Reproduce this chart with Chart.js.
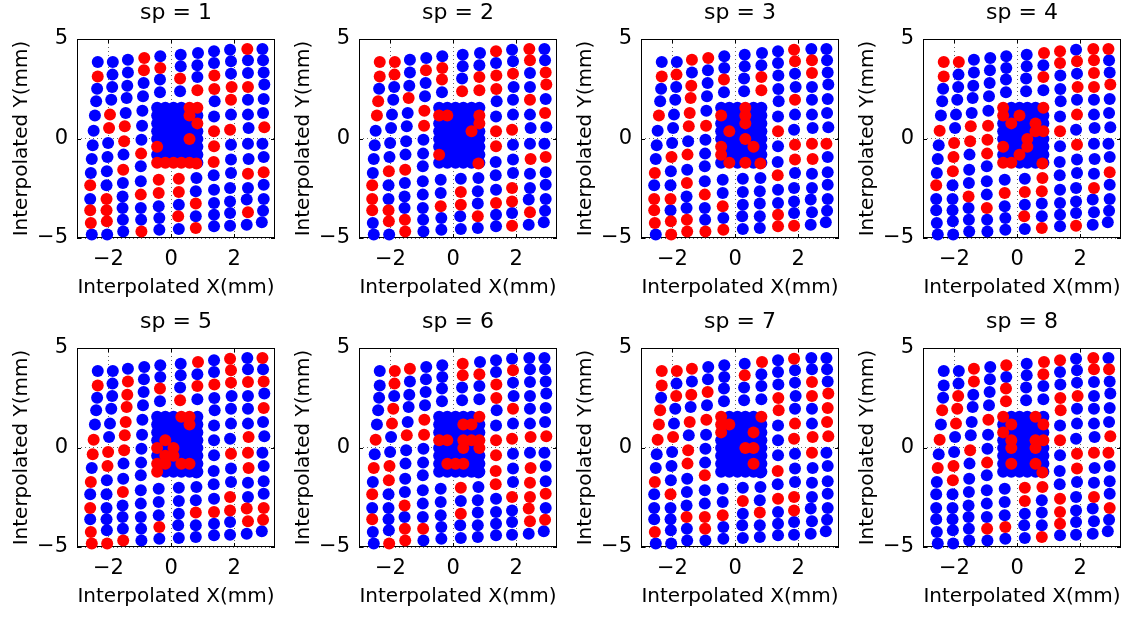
<!DOCTYPE html>
<html>
<head>
<meta charset="utf-8">
<title>Interpolated positions, sp = 1..8</title>
<script src="https://cdn.jsdelivr.net/npm/chart.js@4.4.1/dist/chart.umd.min.js"></script>
<style>
  html, body { margin: 0; padding: 0; background: #fff; }
  #panels { position: relative; width: 1133px; height: 617px; overflow: hidden; }
  .panel { position: absolute; width: 282px; height: 308px; }
</style>
</head>
<body>
<div id="panels"></div>
<script>
/* ---------- Data ---------- */
const panelTitles = ["sp = 1", "sp = 2", "sp = 3", "sp = 4", "sp = 5", "sp = 6", "sp = 7", "sp = 8"];
const xTickValues = [-2, 0, 2];
const yTickValues = [-5, 0, 5];
const xRange = [-3, 3.3];
const yRange = [-5, 5];

// outer grid of electrodes, one column per row of these arrays (top -> bottom)
const gridColX = [
  [-2.34, -2.34, -2.36, -2.39, -2.43, -2.47, -2.50, -2.53, -2.56, -2.58, -2.58, -2.58, -2.56, -2.53],
  [-1.86, -1.87, -1.88, -1.91, -1.95, -1.98, -2.01, -2.03, -2.05, -2.06, -2.06, -2.06, -2.05, -2.04],
  [-1.38, -1.38, -1.40, -1.42, -1.45, -1.48, -1.50, -1.52, -1.53, -1.54, -1.55, -1.55, -1.54, -1.53],
  [-0.86, -0.87, -0.88, -0.90, -0.92, -0.93, -0.95, -0.96, -0.97, -0.97, -0.97, -0.97, -0.96, -0.95],
  [-0.35, -0.35, -0.36, -0.36, -0.40, -0.40, -0.40, -0.38, -0.38],
  [0.30, 0.30, 0.28, 0.28, 0.24, 0.24, 0.24, 0.22, 0.24],
  [0.85, 0.83, 0.83, 0.83, 0.80, 0.80, 0.78, 0.78, 0.78, 0.78],
  [1.36, 1.36, 1.37, 1.37, 1.38, 1.36, 1.36, 1.36, 1.35, 1.35, 1.36, 1.36, 1.36, 1.36],
  [1.87, 1.90, 1.90, 1.92, 1.90, 1.90, 1.87, 1.90, 1.90, 1.90, 1.87, 1.87, 1.87, 1.87],
  [2.42, 2.44, 2.44, 2.44, 2.44, 2.44, 2.46, 2.44, 2.46, 2.44, 2.44, 2.40, 2.44, 2.40],
  [2.90, 2.92, 2.94, 2.96, 2.94, 2.92, 2.96, 2.90, 2.94, 2.94, 2.94, 2.94, 2.92, 2.88]
];
const gridColY = [
  [3.84, 3.12, 2.50, 1.87, 1.15, 0.39, -0.34, -1.03, -1.73, -2.35, -3.04, -3.61, -4.25, -4.83],
  [3.84, 3.21, 2.59, 1.95, 1.20, 0.53, -0.23, -0.93, -1.65, -2.35, -3.04, -3.61, -4.16, -4.83],
  [3.96, 3.32, 2.65, 2.04, 1.28, 0.61, -0.14, -0.81, -1.57, -2.24, -2.91, -3.49, -4.08, -4.67],
  [4.05, 3.43, 2.79, 2.12, 1.40, 0.64, -0.06, -0.76, -1.40, -2.15, -2.82, -3.49, -4.08, -4.67],
  [4.13, 3.54, 2.96, 2.32, -2.07, -2.74, -3.41, -4.00, -4.58],
  [4.21, 3.63, 3.01, 2.37, -2.02, -2.69, -3.33, -3.91, -4.55],
  [4.30, 3.68, 3.09, 2.42, -1.26, -1.98, -2.65, -3.27, -3.91, -4.50],
  [4.38, 3.79, 3.16, 2.49, 1.87, 1.11, 0.36, -0.39, -1.18, -1.85, -2.57, -3.24, -3.83, -4.41],
  [4.46, 3.88, 3.26, 2.59, 1.95, 1.20, 0.44, -0.31, -1.06, -1.73, -2.49, -3.16, -3.74, -4.38],
  [4.50, 3.93, 3.29, 2.59, 1.95, 1.20, 0.53, -0.26, -1.03, -1.77, -2.49, -3.07, -3.71, -4.33],
  [4.50, 3.93, 3.32, 2.71, 1.98, 1.28, 0.56, -0.26, -0.93, -1.70, -2.32, -3.04, -3.63, -4.21]
];

// dense central block
const blockX = [-0.45, -0.19, 0.07, 0.32, 0.58, 0.83];
const blockY = [1.55, 1.15, 0.76, 0.37, -0.03, -0.42, -0.82, -1.22];

// colour of every point, "r" red / "b" blue; grid strings follow gridColY, block strings are rows of blockX
const sp1Grid = ["brbbbbbbbrbrrb", "bbbbrrbbbbrrrb", "bbbbbrrbrbbbbb", "rrbbbbbrbbrbbr", "brbbrrbbb", "bbrbrrbrb",
  "bbbrrbbrbr", "bbrrbbrrrbbbbb", "bbbrrbrbbbbbbb", "rbbrbbbbbrbbrb", "bbbbbbrbbrbbbb"];
const sp1Block = ["bbbbrr", "bbbbrb", "bbbbbr", "bbbbbb", "bbbbrb", "rbbbbb", "bbbbbb", "rrrrrb"];

const sp2Grid = ["rrbrrbbbbrrrbb", "rrbbbbbbrbbrrb", "bbbrbbbbrbbbrr", "brbbrrbbbbbbbb", "brrbbbrbb", "bbbrbrrbb",
  "bbrrrbbbrb", "rbrrbbrrbbbrbb", "bbrbbbrbbbrrbr", "rrbbrbbbrbbbrb", "bbrrbrbbrbbbbb"];
const sp2Block = ["bbbbbb", "rrbbbr", "bbbbbr", "bbbbrb", "bbbbbb", "bbbbbb", "rbbbbb", "bbbbbb"];

const sp3Grid = ["brbbrbbbrbrrrb", "brbbbbbrbbrbrr", "rbrrrrbrbrbbrr", "rbbbbrbbbbrbbr", "bbrbbbrbr", "bbbbbbbbb",
  "bbrrrbbbbb", "bbbbbbrbbrbbrr", "rrbbrbbrrbbbbr", "brrbbbbrrbbbbb", "bbbbbbbrbbbbbb"];
const sp3Block = ["bbbrbb", "rbbrbb", "bbbrbb", "brbbbb", "bbbrbb", "rbbbrb", "rbbbbb", "brbrbb"];

const sp4Grid = ["rrbbbrbbbrbbbb", "rbbbbbrrrbbbbb", "bbbbbrrbbbrbbb", "bbbbbrrrbbbrbb", "bbbbbrbbb", "bbbbbrbrb",
  "rbrbrrrbbr", "rrbbbbrbbbbbbb", "brbrbrbrbbbbbr", "rrrrbbbbbbrbbb", "rbbrbbbbbrbbbb"];
const sp4Block = ["rbbbbr", "rbrbbb", "brbbrb", "bbbbrr", "bbbrbb", "rbbrbb", "bbrbbb", "rrbbbb"];

const sp5Grid = ["brbbbrrbrbrbrr", "bbbbbbrrbbbbbr", "brrrrrrbbrbbbr", "bbbbbbbbbbbbbb", "bbrbbbbrb", "bbbrbbbbb",
  "rbrbbbbrbb", "bbrbbbbbbbbrbb", "rrrbbbbrbbrrbb", "bbrbbbrrrbbrrb", "rbrbrbbbbbbrrb"];
const sp5Block = ["bbbrrb", "bbbbrb", "bbbbbb", "brbbbb", "rbrbbb", "brrbbb", "rrbrrb", "rbbbbb"];

const sp6Grid = ["bbbbbrbrbrbrbb", "rrbrrbbrrbbbbr", "rbbbbrbbbbrbrr", "bbbbrrbbbbbbrb", "bbbbbbbbb", "rrbbrbrbb",
  "brbbbbbbbb", "bbrrbbrrrrbbbb", "brbbrbrbbbrbbb", "bbbbbbrbrrrrrb", "bbbbbbrbbbrbrb"];
const sp6Block = ["bbbbbr", "bbbrrb", "bbbbbb", "rrbrrr", "bbbrbr", "bbbbbb", "brrrbb", "bbbbbb"];

const sp7Grid = ["rrbrrrbbrbbbrb", "rbrbbrbbbrbbbb", "rbrbrbrrbbbrbb", "bbrbrbbbrbbrrb", "bbbbbbrbb", "brbbbrbbb",
  "rbbbbbbrbb", "bbbrrbbbrbrbbb", "rbbbbrrbbbrrbb", "bbrrbbrrbbbbbb", "bbbrrrrbbbbbbb"];
const sp7Block = ["rbbbbr", "rrbbbb", "rbbbrb", "bbbbbb", "bbbrrb", "bbbbbb", "bbbbrb", "bbbbbb"];

const sp8Grid = ["bbbrbrbrbbbbbb", "bbrrrbbrrbbbbb", "rrbbbbrbbbbbbb", "bbbbrbbrbbbbrb", "rbrrbbbrb", "bbbbrrbbb",
  "rrbbrrbbbr", "rbbrrbrbbbrrrb", "bbbrbbbrrbbbbb", "rrbbbbbrbbrbbb", "brbbbbrrbbbrbb"];
const sp8Block = ["rbbbrb", "brbbbr", "rbbbbb", "brbbrr", "brbbrb", "bbbbbb", "brbbrb", "bbbbbb"];

const gridColours = [sp1Grid, sp2Grid, sp3Grid, sp4Grid, sp5Grid, sp6Grid, sp7Grid, sp8Grid];
const blockColours = [sp1Block, sp2Block, sp3Block, sp4Block, sp5Block, sp6Block, sp7Block, sp8Block];

/* ---------- Style ---------- */
const BLUE = "#0000ff";
const RED = "#ff0000";
const PANEL_W = 282;
const PANEL_H = 308;
const labelFont = { family: "'DejaVu Sans', sans-serif", size: 20 };
const tickFont = { family: "'DejaVu Sans', sans-serif", size: 21 };

Chart.defaults.font.family = "'DejaVu Sans', sans-serif";
Chart.defaults.color = "#000";

document.addEventListener("DOMContentLoaded", function () {
  const holder = document.getElementById("panels");

  panelTitles.forEach((title, i) => {
    const canvas = document.createElement("canvas");
    canvas.className = "panel";
    canvas.width = PANEL_W;
    canvas.height = PANEL_H;
    canvas.style.left = (i % 4) * PANEL_W + "px";
    canvas.style.top = Math.floor(i / 4) * 309 + "px";
    holder.appendChild(canvas);

    const points = buildPoints(gridColours[i], blockColours[i]);
    drawPanel(canvas, title, points);
  });
});

function buildPoints(gridMask, blockMask) {
  const blue = [];
  const red = [];

  gridColY.forEach((col, c) => {
    col.forEach((y, r) => {
      (gridMask[c][r] === "r" ? red : blue).push({ x: gridColX[c][r], y: y });
    });
  });

  blockY.forEach((y, r) => {
    blockX.forEach((x, c) => {
      (blockMask[r][c] === "r" ? red : blue).push({ x: x, y: y });
    });
  });

  return { blue: blue, red: red };
}

// black box round the axes, with short inward ticks like MATLAB
const boxPlugin = {
  id: "box",
  beforeDatasetsDraw(chart) {
    const { ctx, chartArea: a, scales } = chart;
    ctx.save();
    ctx.strokeStyle = "#000";
    ctx.lineWidth = 1;
    ctx.strokeRect(a.left + 0.5, a.top + 0.5, a.right - a.left - 1, a.bottom - a.top - 1);
    ctx.beginPath();
    xTickValues.forEach((v) => {
      const px = Math.round(scales.x.getPixelForValue(v)) + 0.5;
      ctx.moveTo(px, a.top); ctx.lineTo(px, a.top + 4);
      ctx.moveTo(px, a.bottom); ctx.lineTo(px, a.bottom - 4);
    });
    yTickValues.forEach((v) => {
      const py = Math.round(scales.y.getPixelForValue(v)) + 0.5;
      ctx.moveTo(a.left, py); ctx.lineTo(a.left + 4, py);
      ctx.moveTo(a.right, py); ctx.lineTo(a.right - 4, py);
    });
    ctx.stroke();
    ctx.restore();
  }
};

function minusSign(value) {
  return String(value).replace("-", "\u2212");
}

function drawPanel(canvas, title, points) {
  const gridStyle = { color: "rgba(0,0,0,0.6)", lineWidth: 1, drawTicks: false };
  const borderStyle = { display: false, dash: [1, 3] };

  new Chart(canvas, {
    type: "scatter",
    data: {
      datasets: [
        { label: "red", data: points.red, backgroundColor: RED, borderWidth: 0,
          pointRadius: 6, order: 0, clip: false },
        { label: "blue", data: points.blue, backgroundColor: BLUE, borderWidth: 0,
          pointRadius: 6, order: 1, clip: false }
      ]
    },
    options: {
      responsive: false,
      animation: false,
      events: [],
      layout: { padding: { left: 0, right: 7, top: 0, bottom: 0 } },
      plugins: {
        legend: { display: false },
        tooltip: { enabled: false },
        title: {
          display: true,
          fullSize: false,
          text: title,
          color: "#000",
          font: { size: 22, weight: "normal" },
          padding: { top: 0, bottom: 12.6 }
        }
      },
      scales: {
        x: {
          type: "linear",
          min: xRange[0],
          max: xRange[1],
          afterBuildTicks: (scale) => { scale.ticks = xTickValues.map((v) => ({ value: v })); },
          afterFit: (scale) => { scale.height = 70; },
          ticks: { padding: 9, font: tickFont, color: "#000", callback: minusSign },
          grid: gridStyle,
          border: borderStyle,
          title: { display: true, text: "Interpolated X(mm)", color: "#000", font: labelFont,
                   padding: { top: 0, bottom: 8 } }
        },
        y: {
          type: "linear",
          min: yRange[0],
          max: yRange[1],
          afterBuildTicks: (scale) => { scale.ticks = yTickValues.map((v) => ({ value: v })); },
          afterFit: (scale) => { scale.width = 77; },
          ticks: { padding: 9, font: tickFont, color: "#000", callback: minusSign },
          grid: gridStyle,
          border: borderStyle,
          title: { display: true, text: "Interpolated Y(mm)", color: "#000", font: labelFont,
                   padding: { top: 9.5, bottom: 0 } }
        }
      }
    },
    plugins: [boxPlugin]
  });
}
</script>
</body>
</html>
